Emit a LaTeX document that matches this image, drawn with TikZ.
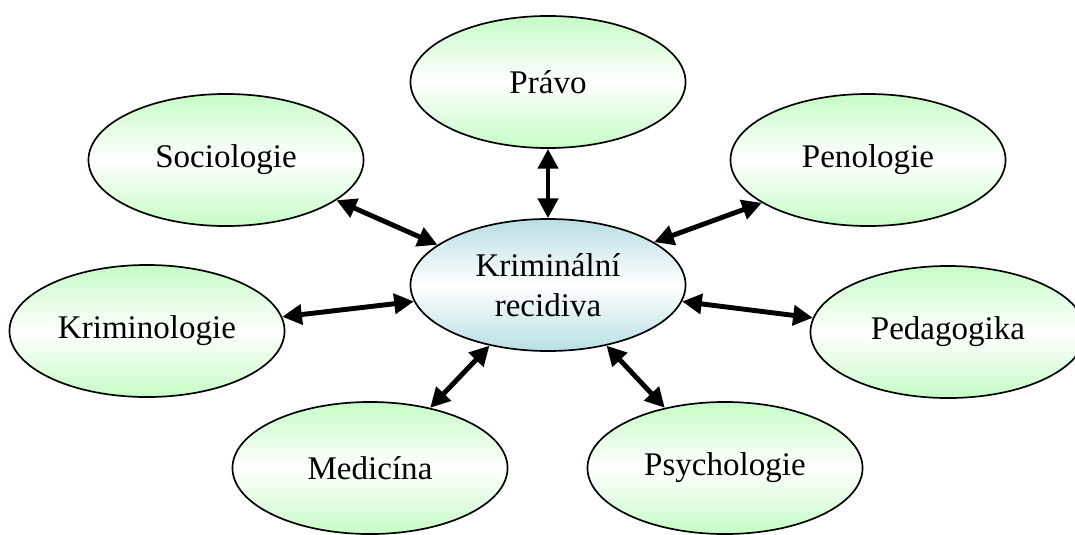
\documentclass[tikz,border=0pt]{standalone}
\usepackage{fontspec}
\setmainfont{Liberation Serif}
\usepackage{tikz}
\usepackage{xcolor}
\usetikzlibrary{shapes.geometric,arrows.meta}

\definecolor{obor}{RGB}{198,252,198}
\definecolor{jadro}{RGB}{184,222,228}

\tikzset{
  field/.style={ellipse, draw=black, line width=1.2pt, inner sep=0pt,
    minimum width=6.875cm, minimum height=3.3cm,
    top color=obor, bottom color=obor, middle color=white,
    font=\fontsize{23.5}{28.5}\selectfont, align=center},
  core/.style={field, top color=jadro, bottom color=jadro, middle color=white},
  link/.style={{Triangle[length=14pt,width=14pt]}-{Triangle[length=14pt,width=14pt]}, line width=3.5pt}
}

\begin{document}
\begin{tikzpicture}[x=0.025cm, y=-0.025cm]
\useasboundingbox (0,0) rectangle (1075,534);
\clip (0,0) rectangle (1075,534);
\node[core] (rec) at (548,285) {Kriminální\\recidiva};
\node[field] (pravo) at (548,82) {Právo};
\node[field] (socio) at (226,160) {Sociologie};
\node[field] (peno) at (868,160) {Penologie};
\node[field] (krimi) at (147,331) {Kriminologie};
\node[field] (peda) at (948,332) {Pedagogika};
\node[field] (medi) at (370,468) {Medicína};
\node[field] (psych) at (725,468) {Psychologie};
\draw[link] (pravo.-90) -- (rec.90);
\draw[link] (socio.-20) -- (rec.160);
\draw[link] (peno.-158) -- (rec.22);
\draw[link] (krimi.6) -- (rec.187);
\draw[link] (peda.174) -- (rec.-7);
\draw[link] (medi.45) -- (rec.226);
\draw[link] (psych.135) -- (rec.-46);
\end{tikzpicture}
\end{document}
